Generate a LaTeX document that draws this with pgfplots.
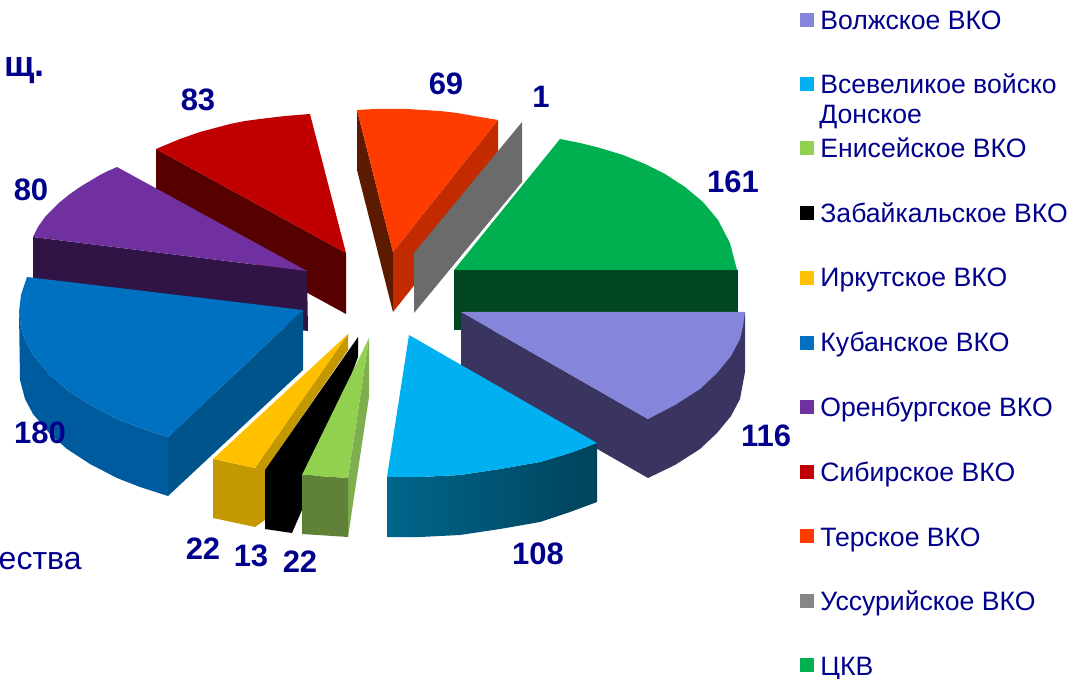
\documentclass[border=0pt]{standalone}
\usepackage{pgfplots}
\pgfplotsset{compat=1.18}
\usepackage{fontspec}
\setmainfont{Liberation Sans}
\definecolor{txt}{HTML}{00008C}
\definecolor{lil}{HTML}{8585DC}\definecolor{lild}{HTML}{3A3560}
\definecolor{cya}{HTML}{00B0F0}
\definecolor{lgr}{HTML}{92D050}\definecolor{lgrf}{HTML}{5F8238}\definecolor{lgrs}{HTML}{7FAE4E}
\definecolor{yel}{HTML}{FFC000}\definecolor{yeld}{HTML}{C49800}
\definecolor{blu}{HTML}{0070C0}\definecolor{blud}{HTML}{005A9E}\definecolor{blur}{HTML}{00548C}
\definecolor{pur}{HTML}{7030A0}\definecolor{purd}{HTML}{2F1445}
\definecolor{red1}{HTML}{C00000}\definecolor{redd}{HTML}{560000}
\definecolor{ora}{HTML}{FF3C00}\definecolor{orad}{HTML}{5C1A00}\definecolor{orar}{HTML}{C22B00}
\definecolor{gry}{HTML}{6B6B6B}\definecolor{gryl}{HTML}{868686}
\definecolor{grn}{HTML}{00B050}\definecolor{grnd}{HTML}{004620}
\newcommand{\lab}[3]{\node[font=\fontsize{15.5}{18}\selectfont,text=txt] at (axis cs:#1,#2) {\textbf{#3}};}
\newcommand{\leg}[3]{\node[anchor=base west,inner sep=0pt,font=\fontsize{13.3}{15}\selectfont,text=txt] at (axis cs:#1,#2) {#3};}
\newcommand{\sq}[2]{\addplot[only marks,mark=square*,mark size=3.2pt,mark options={fill=#2,draw=#2}] coordinates {(807,#1)};}
\begin{document}
\begin{tikzpicture}
\useasboundingbox (0,0) rectangle (536pt,339.5pt);
\clip (0,0) rectangle (536pt,339.5pt);
\begin{axis}[at={(0,0)},anchor=south west,scale only axis,width=536pt,height=339.5pt,
  xmin=0,xmax=1072,ymin=0,ymax=679,y dir=reverse,hide axis,clip=false]
% red (83)
\addplot[fill=redd,draw=none] coordinates {(156,149)(346,253)(346,314)(156,210)} -- cycle;
\addplot[fill=red1,draw=none] coordinates {(156,149)(168,144)(180,139)(200,132)(215,128)(230,124)(245,121)(260,119)(285,116)(310,114)(346,253)} -- cycle;
% purple (80)
\addplot[fill=purd,draw=none] coordinates {(33,237)(307,271)(308,331)(33,297)} -- cycle;
\addplot[fill=pur,draw=none] coordinates {(117,167)(108,171)(100,175)(90,181)(80,187)(70,194)(60,202)(52,210)(45,217)(38,227)(33,237)(307,271)} -- cycle;
% orange (69)
\addplot[fill=orad,draw=none] coordinates {(357,110)(393,252)(393,312)(357,170)} -- cycle;
\addplot[fill=orar,draw=none] coordinates {(393,252)(498,120)(498,180)(393,312)} -- cycle;
\addplot[fill=ora,draw=none] coordinates {(357,110)(375,109)(390,109)(407,109)(423,110)(440,111)(457,113)(480,117)(498,120)(393,252)} -- cycle;
% grey (1)
\addplot[fill=gry,draw=none] coordinates {(522,122)(522,182)(414,313)(414,253)} -- cycle;
% green (161)
\addplot[fill=grnd,draw=none] coordinates {(454,270)(738,270)(738,330)(454,330)} -- cycle;
\addplot[fill=grn,draw=none] coordinates {(454,270)(560,139)(580,143)(600,148)(623,155)(645,164)(665,174)(685,187)(703,202)(718,220)(730,243)(737,270)} -- cycle;
% lilac (116)
\addplot[fill=lild,draw=none] coordinates {(461,312)(648,419)(648,478)(461,371)} -- cycle;
\addplot[fill=lild,draw=none] coordinates {(745,312)(745,372)(740,399)(731,416)(717,433)(700,449)(675,465)(648,478)(648,419)} -- cycle;
\addplot[fill=lil,draw=none] coordinates {(461,312)(745,312)(743,326)(740,339)(731,356)(717,373)(700,389)(675,405)(648,419)} -- cycle;
% cyan (108)
\addplot[left color=cya!58!black,right color=cya!38!black,draw=none] coordinates {(387,477)(420,477)(460,475)(500,469)(540,462)(570,453)(597,443)(597,502)(570,512)(540,522)(500,529)(460,535)(420,537)(387,537)} -- cycle;
\addplot[fill=cya,draw=none] coordinates {(409,335)(597,443)(570,453)(540,462)(500,469)(460,475)(420,477)(387,477)} -- cycle;
% blue (180)
\addplot[fill=blud,draw=none] coordinates {(19,312)(21,327)(25,340)(33,355)(50,375)(67,390)(90,405)(117,419)(140,428)(168,437)(168,496)(140,487)(117,478)(90,464)(67,449)(50,434)(33,414)(25,399)(20,380)} -- cycle;
\addplot[fill=blur,draw=none] coordinates {(303,310)(303,370)(168,496)(168,437)} -- cycle;
\addplot[fill=blu,draw=none] coordinates {(27,277)(21,295)(19,312)(21,327)(25,340)(33,355)(50,375)(67,390)(90,405)(117,419)(140,428)(168,437)(303,310)} -- cycle;
% yellow (22)
\addplot[fill=yeld,draw=none] coordinates {(213,459)(255,468)(255,527)(213,518)} -- cycle;
\addplot[fill=yeld,draw=none] coordinates {(255,468)(348,334)(348,350)(265,470)(265,520)(255,527)} -- cycle;
\addplot[fill=yel,draw=none] coordinates {(213,459)(348,334)(255,468)} -- cycle;
% black (13)
\addplot[fill=black,draw=none] coordinates {(358,337)(358,357)(302,510)(292,533)(265,529)(265,470)} -- cycle;
% light green (22)
\addplot[fill=lgrs,draw=none] coordinates {(369,338)(369,397)(348,537)(348,478)} -- cycle;
\addplot[fill=lgrf,draw=none] coordinates {(302,475)(348,478)(348,537)(302,534)} -- cycle;
\addplot[fill=lgr,draw=none] coordinates {(369,338)(348,478)(302,475)} -- cycle;
% data labels
\lab{198}{100}{83}\lab{446}{84}{69}\lab{541}{97}{1}\lab{733}{182}{161}
\lab{766}{436}{116}\lab{538}{554}{108}\lab{300}{562}{22}\lab{251}{556}{13}
\lab{203}{549}{22}\lab{40}{433}{180}\lab{31}{190}{80}
% cropped page text
\node[anchor=base east,inner sep=0pt,font=\fontsize{18}{20}\selectfont\bfseries,text=txt] at (axis cs:45,77) {щ.};
\node[anchor=base east,inner sep=0pt,font=\fontsize{16}{18}\selectfont,text=txt] at (axis cs:82,569) {ества};
% legend
\sq{20}{lil}\sq{84}{cya}\sq{148}{lgr}\sq{213}{black}\sq{278}{yel}\sq{343}{blu}
\sq{407}{pur}\sq{472}{red1}\sq{536}{ora}\sq{601}{gryl}\sq{665}{grn}
\leg{820}{30}{Волжское ВКО}
\leg{820}{94}{Всевеликое войско}
\leg{819}{124}{Донское}
\leg{820}{158}{Енисейское ВКО}
\leg{820}{223}{Забайкальское ВКО}
\leg{820}{287}{Иркутское ВКО}
\leg{820}{352}{Кубанское ВКО}
\leg{820}{416}{Оренбургское ВКО}
\leg{820}{481}{Сибирское ВКО}
\leg{820}{546}{Терское ВКО}
\leg{820}{610}{Уссурийское ВКО}
\leg{820}{675}{ЦКВ}
\end{axis}
\end{tikzpicture}
\end{document}
